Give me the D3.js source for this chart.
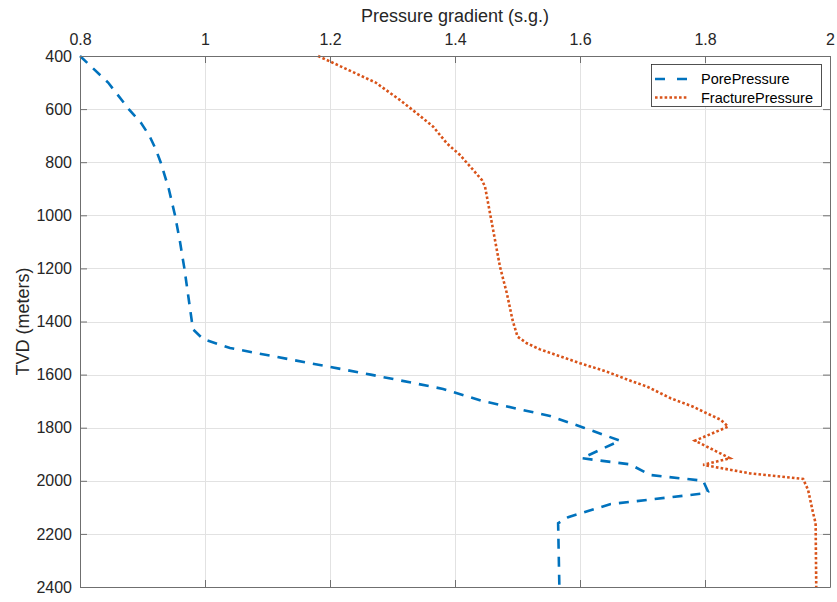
<!DOCTYPE html>
<html>
<head>
<meta charset="utf-8">
<script src="https://cdn.jsdelivr.net/npm/d3@7"></script>
<style>
  html, body { margin: 0; padding: 0; background: #ffffff; }
  svg { display: block; font-family: "Liberation Sans", Arial, Helvetica, sans-serif; }
</style>
</head>
<body>
<svg id="chart" width="837" height="602"></svg>
<script>
// Pore pressure profile: true vertical depth (m) and gradient (s.g.)
const poreDepth = [400, 500, 600, 650, 700, 750, 800, 900, 1000, 1100, 1200, 1300, 1400, 1430, 1466, 1500,
  1600, 1654, 1700, 1756, 1800, 1849, 1915, 1938, 1978, 2000, 2041, 2047, 2088, 2114, 2137, 2160, 2400];
const poreGradient = [0.800, 0.845, 0.878, 0.897, 0.911, 0.921, 0.929, 0.942, 0.952, 0.960, 0.967, 0.973, 0.979, 0.981, 0.997, 1.040,
  1.265, 1.381, 1.445, 1.552, 1.606, 1.664, 1.603, 1.680, 1.712, 1.797, 1.805, 1.800, 1.648, 1.613, 1.581, 1.565, 1.567];

// Fracture pressure profile
const fracDepth = [400, 500, 566, 616, 666, 729, 773, 829, 867, 892, 992, 1093, 1194, 1294, 1394, 1457, 1482, 1505,
  1557, 1589, 1620, 1645, 1689, 1721, 1746, 1770, 1796, 1849, 1915, 1940, 1972, 1993, 2035, 2122, 2160, 2400];
const fracGradient = [1.181, 1.273, 1.312, 1.339, 1.365, 1.387, 1.408, 1.429, 1.443, 1.448, 1.456, 1.464, 1.472, 1.483, 1.492, 1.500, 1.515, 1.536,
  1.600, 1.643, 1.677, 1.707, 1.745, 1.781, 1.803, 1.825, 1.837, 1.784, 1.840, 1.797, 1.872, 1.957, 1.965, 1.973, 1.977, 1.978];

// Axis ticks
const xTicks = [0.8, 1, 1.2, 1.4, 1.6, 1.8, 2];
const yTicks = [400, 600, 800, 1000, 1200, 1400, 1600, 1800, 2000, 2200, 2400];

const seriesNames = ["PorePressure", "FracturePressure"];
const seriesColors = ["#0072BD", "#D95319"];

const svg = d3.select("#chart");
const plotLeft = 80, plotRight = 830, plotTop = 56, plotBottom = 587;

const x = d3.scaleLinear().domain([0.8, 2]).range([plotLeft, plotRight]);
const y = d3.scaleLinear().domain([400, 2400]).range([plotTop, plotBottom]);

const axisColor = "#262626";
const fmt = d3.format("~g");

// grid
const grid = svg.append("g").attr("stroke", "#e2e2e2").attr("stroke-width", 1);
grid.selectAll("line.gx").data(xTicks.slice(1, -1)).join("line")
  .attr("x1", d => Math.round(x(d)) + 0.5).attr("x2", d => Math.round(x(d)) + 0.5)
  .attr("y1", plotTop).attr("y2", plotBottom);
grid.selectAll("line.gy").data(yTicks.slice(1, -1)).join("line")
  .attr("y1", d => Math.round(y(d)) + 0.5).attr("y2", d => Math.round(y(d)) + 0.5)
  .attr("x1", plotLeft).attr("x2", plotRight);

// series
svg.append("clipPath").attr("id", "plotclip").append("rect")
  .attr("x", plotLeft - 2).attr("y", plotTop - 2)
  .attr("width", plotRight - plotLeft + 4).attr("height", plotBottom - plotTop + 4);

const line = d3.line().x(d => x(d[0])).y(d => y(d[1]));
const pore = poreDepth.map((d, i) => [poreGradient[i], d]);
const frac = fracDepth.map((d, i) => [fracGradient[i], d]);

const plot = svg.append("g").attr("clip-path", "url(#plotclip)");
plot.append("path").datum(pore).attr("d", line)
  .attr("fill", "none").attr("stroke", seriesColors[0]).attr("stroke-width", 2.6)
  .attr("stroke-dasharray", "10,8");
plot.append("path").datum(frac).attr("d", line)
  .attr("fill", "none").attr("stroke", seriesColors[1]).attr("stroke-width", 2.6)
  .attr("stroke-dasharray", "2.6,2.2");

// axes (box with ticks pointing inward)
function styleAxis(g) {
  g.selectAll(".domain").attr("stroke", "#6f6f6f").attr("stroke-width", 1);
  g.selectAll(".tick line").attr("stroke", "#6f6f6f").attr("stroke-width", 1);
  g.selectAll(".tick text").attr("fill", axisColor).style("font-size", "16px")
    .style("font-family", "'Liberation Sans', Arial, sans-serif");
}

svg.append("g").attr("transform", `translate(0,${plotTop})`)
  .call(d3.axisTop(x).tickValues(xTicks).tickFormat(fmt).tickSizeInner(-7).tickSizeOuter(0).tickPadding(11))
  .call(styleAxis);
svg.append("g").attr("transform", `translate(0,${plotBottom})`)
  .call(d3.axisBottom(x).tickValues(xTicks).tickFormat("").tickSizeInner(-7).tickSizeOuter(0))
  .call(styleAxis);
svg.append("g").attr("transform", `translate(${plotLeft},0)`)
  .call(d3.axisLeft(y).tickValues(yTicks).tickFormat(fmt).tickSizeInner(-7).tickSizeOuter(0).tickPadding(8))
  .call(styleAxis);
svg.append("g").attr("transform", `translate(${plotRight},0)`)
  .call(d3.axisRight(y).tickValues(yTicks).tickFormat("").tickSizeInner(-7).tickSizeOuter(0))
  .call(styleAxis);

// axis titles
svg.append("text").attr("x", (plotLeft + plotRight) / 2).attr("y", 22)
  .attr("text-anchor", "middle").attr("fill", axisColor).style("font-size", "18px")
  .text("Pressure gradient (s.g.)");
svg.append("text").attr("transform", `translate(29,${(plotTop + plotBottom) / 2}) rotate(-90)`)
  .attr("text-anchor", "middle").attr("fill", axisColor).style("font-size", "18px")
  .text("TVD (meters)");

// legend
const lg = svg.append("g");
lg.append("rect").attr("x", 651.5).attr("y", 64.5).attr("width", 170).attr("height", 42)
  .attr("fill", "#ffffff").attr("stroke", "#262626").attr("stroke-width", 0.8);
const dashes = ["10,12", "2.6,2.2"];
seriesNames.forEach((name, i) => {
  const cy = 79 + i * 18.5;
  lg.append("line").attr("x1", 655).attr("x2", 688).attr("y1", cy).attr("y2", cy)
    .attr("stroke", seriesColors[i]).attr("stroke-width", 2.6).attr("stroke-dasharray", dashes[i]);
  lg.append("text").attr("x", 701).attr("y", cy).attr("dy", "0.35em")
    .attr("fill", "#000000").style("font-size", "14.5px").text(name);
});
</script>
</body>
</html>
